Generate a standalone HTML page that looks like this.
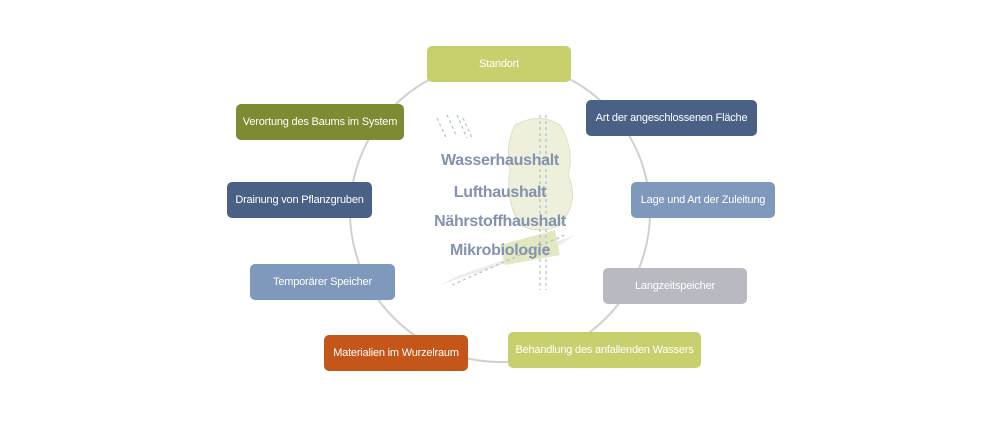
<!DOCTYPE html>
<html><head><meta charset="utf-8"><style>
body{margin:0;width:1000px;height:438px;background:#fff;position:relative;overflow:hidden;font-family:"Liberation Sans",sans-serif}
.b{position:absolute;height:36px;border-radius:5px;color:#fff;font-size:11px;letter-spacing:-0.2px;display:flex;align-items:center;justify-content:center;white-space:nowrap}
.t{position:absolute;left:400px;width:200px;text-align:center;color:#8392b0;font-weight:bold;font-size:16px;letter-spacing:-0.3px}
</style></head><body>
<svg width="1000" height="438" style="position:absolute;left:0;top:0">
<circle cx="500" cy="212" r="150" fill="none" stroke="#d0d0d0" stroke-width="2"/>
<path d="M515 125 Q540 112 560 125 Q575 150 568 175 Q580 200 560 225 Q540 235 520 225 Q505 200 510 170 Q505 145 515 125Z" fill="#eef0dc" stroke="#dde0c8"/>
<path d="M440 285 L560 245 L575 235 L460 275Z" fill="#ecedec"/>
<path d="M500 245 L555 230 L560 255 L505 265Z" fill="#e3e8c0"/>
<g stroke="#a9c4cc" stroke-dasharray="3,3" stroke-width="1.2">
<path d="M437 118 L447 140 M447 115 L457 137 M457 115 L467 138 M463 118 L473 140"/>
<path d="M540 115 L540 290 M546 115 L546 290 M452 285 L565 235"/>
</g>
</svg>
<div class="t" style="top:152px">Wasserhaushalt</div>
<div class="t" style="top:184px">Lufthaushalt</div>
<div class="t" style="top:213px">Nährstoffhaushalt</div>
<div class="t" style="top:242px">Mikrobiologie</div>
<div class="b" style="left:427px;top:46px;width:144px;background:#c8d06e">Standort</div>
<div class="b" style="left:236px;top:104px;width:168px;background:#7f8b32">Verortung des Baums im System</div>
<div class="b" style="left:586px;top:100px;width:171px;background:#4a6185">Art der angeschlossenen Fläche</div>
<div class="b" style="left:227px;top:182px;width:145px;background:#4a6185">Drainung von Pflanzgruben</div>
<div class="b" style="left:631px;top:182px;width:144px;background:#7f99bd">Lage und Art der Zuleitung</div>
<div class="b" style="left:250px;top:264px;width:145px;background:#7f99bd">Temporärer Speicher</div>
<div class="b" style="left:603px;top:268px;width:144px;background:#b9b9c1">Langzeitspeicher</div>
<div class="b" style="left:324px;top:335px;width:144px;background:#c5561a">Materialien im Wurzelraum</div>
<div class="b" style="left:508px;top:332px;width:193px;background:#c8d06e">Behandlung des anfallenden Wassers</div>
</body></html>
